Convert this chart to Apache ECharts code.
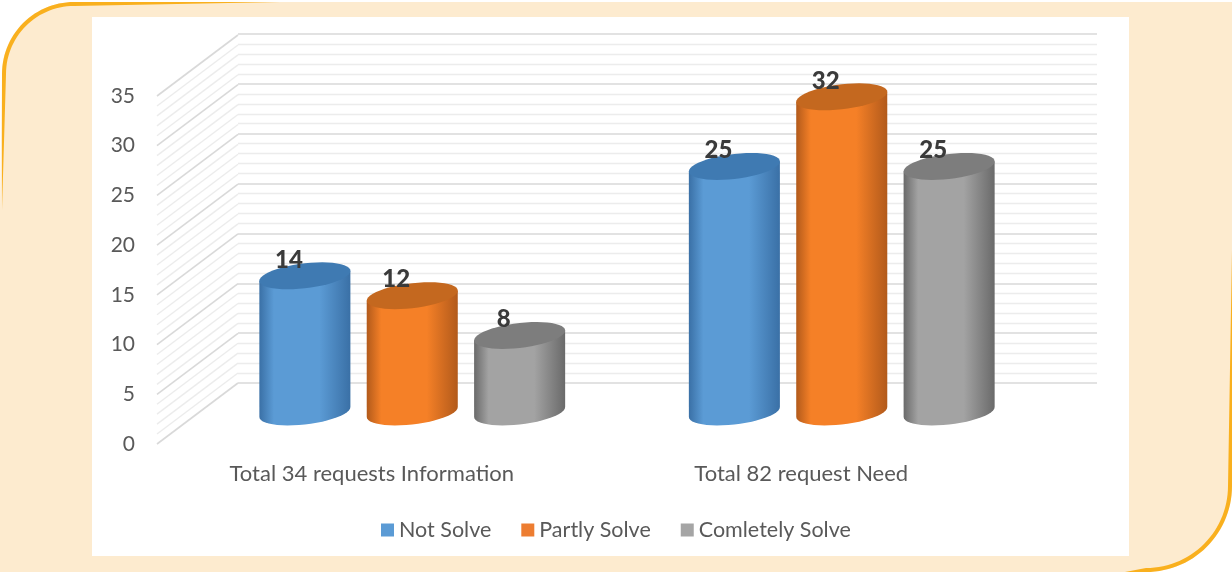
<!DOCTYPE html>
<html>
<head>
<meta charset="utf-8">
<title>Requests chart</title>
<script src="https://cdn.jsdelivr.net/npm/echarts@6/dist/echarts.min.js"></script>
<style>
html,body{margin:0;padding:0;background:#fff;}
#chart{width:1232px;height:572px;}
</style>
</head>
<body>
<div id="chart"></div>
<script>
var categories = ["Total 34 requests Information", "Total 82 request Need"];
var notSolve = [14, 25];
var partlySolve = [12, 32];
var comletelySolve = [8, 25];
var wallTicks = [0,1,2,3,4,5,6,7,8,9,10,11,12,13,14,15,16,17,18,19,20,21,22,23,24,25,26,27,28,29,30,31,32,33,34,35];

var font = "Lato, 'Open Sans', sans-serif";
var txt = "#595959";

// edge, middle, top colours of each cylinder
var blue = ["#3a70a6", "#5b9bd5", "#3f7ab2"];
var orange = ["#b25a1b", "#f58027", "#c4681f"];
var gray = ["#6a6a6a", "#a3a3a3", "#7d7d7d"];

var myChart = echarts.init(document.getElementById("chart"), null, {renderer: "canvas"});

// orange edge of the frame, thin at both ends
function edge(pts) {
    var out = [], back = [];
    for (var i = 0; i < pts.length; i++) {
        var th = (i === 0 || i === pts.length - 1) ? 0 : 4;
        out.push([pts[i][0], pts[i][1]]);
        back.unshift([pts[i][0] + pts[i][2] * th, pts[i][1] + pts[i][3] * th]);
    }
    return out.concat(back);
}
function arc(cx, cy, r, a0, a1) {
    var res = [];
    for (var i = 0; i <= 30; i++) {
        var a = (a0 + (a1 - a0) * i / 30) * Math.PI / 180;
        var c = Math.cos(a), n = Math.sin(a);
        res.push([cx + r * c, cy + r * n, -c, -n]);
    }
    return res;
}
var r1 = 72, r2 = 86;
var topLeft = [[2, 210, 1, 0]].concat(arc(2 + r1, 2 + r1, r1, 180, 270), [[280, 2, 0, 1]]);
var botRight = [[1232, 250, -1, 0]].concat(arc(1232 - r2, 572 - r2, r2, 0, 90), [[1125, 572, 0, -1]]);
function frame() {
    var p = [];
    arc(2 + r1, 2 + r1, r1, 180, 270).forEach(function (q) { p.push([q[0], q[1]]); });
    p.push([1232, 2]);
    arc(1232 - r2, 572 - r2, r2, 0, 90).forEach(function (q) { p.push([q[0], q[1]]); });
    p.push([0, 572]);
    p.push([0, 210]);
    return p;
}

function sideWall(params, api) {
    var v = api.value(0);
    var cs = params.coordSys;
    var y = api.coord([0, v])[1];
    var major = v % 5 === 0;
    return {
        type: "line",
        shape: {x1: cs.x, y1: y, x2: cs.x + 81, y2: y - 61},
        style: {stroke: major ? "#d9d9d9" : "#ececec", lineWidth: major ? 1.6 : 1.4}
    };
}

function cylinder(slot, cols) {
    return function (params, api) {
        var i = api.value(0), v = api.value(1);
        var top = api.coord([i, v]);
        var base = api.coord([i, 0]);
        var band = api.size([1, 0])[0];
        var c = top[0] + slot * 0.25 * band;
        var a = 0.106 * band, b = 12.5, k = 5;
        var floor = base[1] - 3;
        var body = [], cap = [], t, j;
        for (j = 0; j <= 24; j++) {
            t = Math.PI + Math.PI * j / 24;
            body.push([c + a * Math.cos(t), floor - b * Math.sin(t) - k * Math.cos(t)]);
        }
        body.push([c + a, top[1] - k]);
        body.push([c - a, top[1] + k]);
        for (j = 0; j < 48; j++) {
            t = 2 * Math.PI * j / 48;
            cap.push([c + a * Math.cos(t), top[1] - b * Math.sin(t) - k * Math.cos(t)]);
        }
        return {
            type: "group",
            children: [{
                type: "polygon",
                shape: {points: body},
                style: {fill: new echarts.graphic.LinearGradient(0, 0, 1, 0, [
                    {offset: 0, color: cols[0]},
                    {offset: 0.16, color: cols[1]},
                    {offset: 0.66, color: cols[1]},
                    {offset: 1, color: cols[0]}
                ])}
            }, {
                type: "polygon",
                shape: {points: cap},
                style: {fill: cols[2]}
            }, {
                type: "text",
                style: {
                    text: String(v),
                    x: c - 16,
                    y: top[1] - 16,
                    fill: "#3a3a3a",
                    fontSize: 24,
                    fontWeight: 900,
                    fontFamily: font,
                    textAlign: "center",
                    textVerticalAlign: "middle"
                }
            }]
        };
    };
}

function pairs(list) {
    return list.map(function (v, i) { return [i, v]; });
}

var option = {
    animation: false,
    backgroundColor: "#fff",
    graphic: [
        {type: "polygon", z: -10, shape: {points: frame()}, style: {fill: "#fdebcf"}},
        {type: "polygon", z: -9, shape: {points: edge(topLeft)}, style: {fill: "#f9b01e"}},
        {type: "polygon", z: -9, shape: {points: edge(botRight)}, style: {fill: "#f9b01e"}},
        {type: "rect", z: -8, shape: {x: 92, y: 17, width: 1037, height: 539}, style: {fill: "#fff"}}
    ],
    legend: {
        left: 376,
        top: 514,
        icon: "rect",
        itemWidth: 13,
        itemHeight: 13,
        itemGap: 30,
        data: ["Not Solve", "Partly Solve", "Comletely Solve"],
        textStyle: {color: txt, fontSize: 21.5, fontFamily: font}
    },
    grid: [
        {left: 157, top: 96, width: 859, height: 348},   // front, carries the labels
        {left: 238, top: 34, width: 859, height: 349},   // back wall
        {left: 197.5, top: 67, width: 859, height: 348}  // plane the cylinders stand on
    ],
    xAxis: [
        {
            gridIndex: 0, type: "category", data: categories,
            axisLine: {show: false}, axisTick: {show: false},
            axisLabel: {color: txt, fontSize: 22, fontFamily: font, margin: 19}
        },
        {gridIndex: 1, type: "value", min: 0, max: 1, show: false},
        {gridIndex: 2, type: "category", data: categories, show: false}
    ],
    yAxis: [
        {
            gridIndex: 0, type: "value", min: 0, max: 35, interval: 5,
            axisLine: {show: false}, axisTick: {show: false}, splitLine: {show: false},
            axisLabel: {color: txt, fontSize: 21, fontFamily: font, margin: 22}
        },
        {
            gridIndex: 1, type: "value", min: 0, max: 35, interval: 5,
            axisLine: {show: false}, axisTick: {show: false}, axisLabel: {show: false},
            splitLine: {show: true, lineStyle: {color: "#d9d9d9", width: 1.6}},
            minorTick: {show: false, splitNumber: 5},
            minorSplitLine: {show: true, lineStyle: {color: "#ececec", width: 1.4}}
        },
        {gridIndex: 2, type: "value", min: 0, max: 35, show: false}
    ],
    series: [
        {
            type: "custom", name: "wall", silent: true, xAxisIndex: 0, yAxisIndex: 0,
            renderItem: sideWall,
            data: wallTicks,
            encode: {y: 0}
        },
        {
            type: "custom", name: "Not Solve", xAxisIndex: 2, yAxisIndex: 2,
            itemStyle: {color: "#5b9bd5"},
            renderItem: cylinder(-1, blue),
            data: pairs(notSolve), encode: {x: 0, y: 1}
        },
        {
            type: "custom", name: "Partly Solve", xAxisIndex: 2, yAxisIndex: 2,
            itemStyle: {color: "#ed7d31"},
            renderItem: cylinder(0, orange),
            data: pairs(partlySolve), encode: {x: 0, y: 1}
        },
        {
            type: "custom", name: "Comletely Solve", xAxisIndex: 2, yAxisIndex: 2,
            itemStyle: {color: "#a5a5a5"},
            renderItem: cylinder(1, gray),
            data: pairs(comletelySolve), encode: {x: 0, y: 1}
        }
    ]
};
myChart.setOption(option);
</script>
</body>
</html>
